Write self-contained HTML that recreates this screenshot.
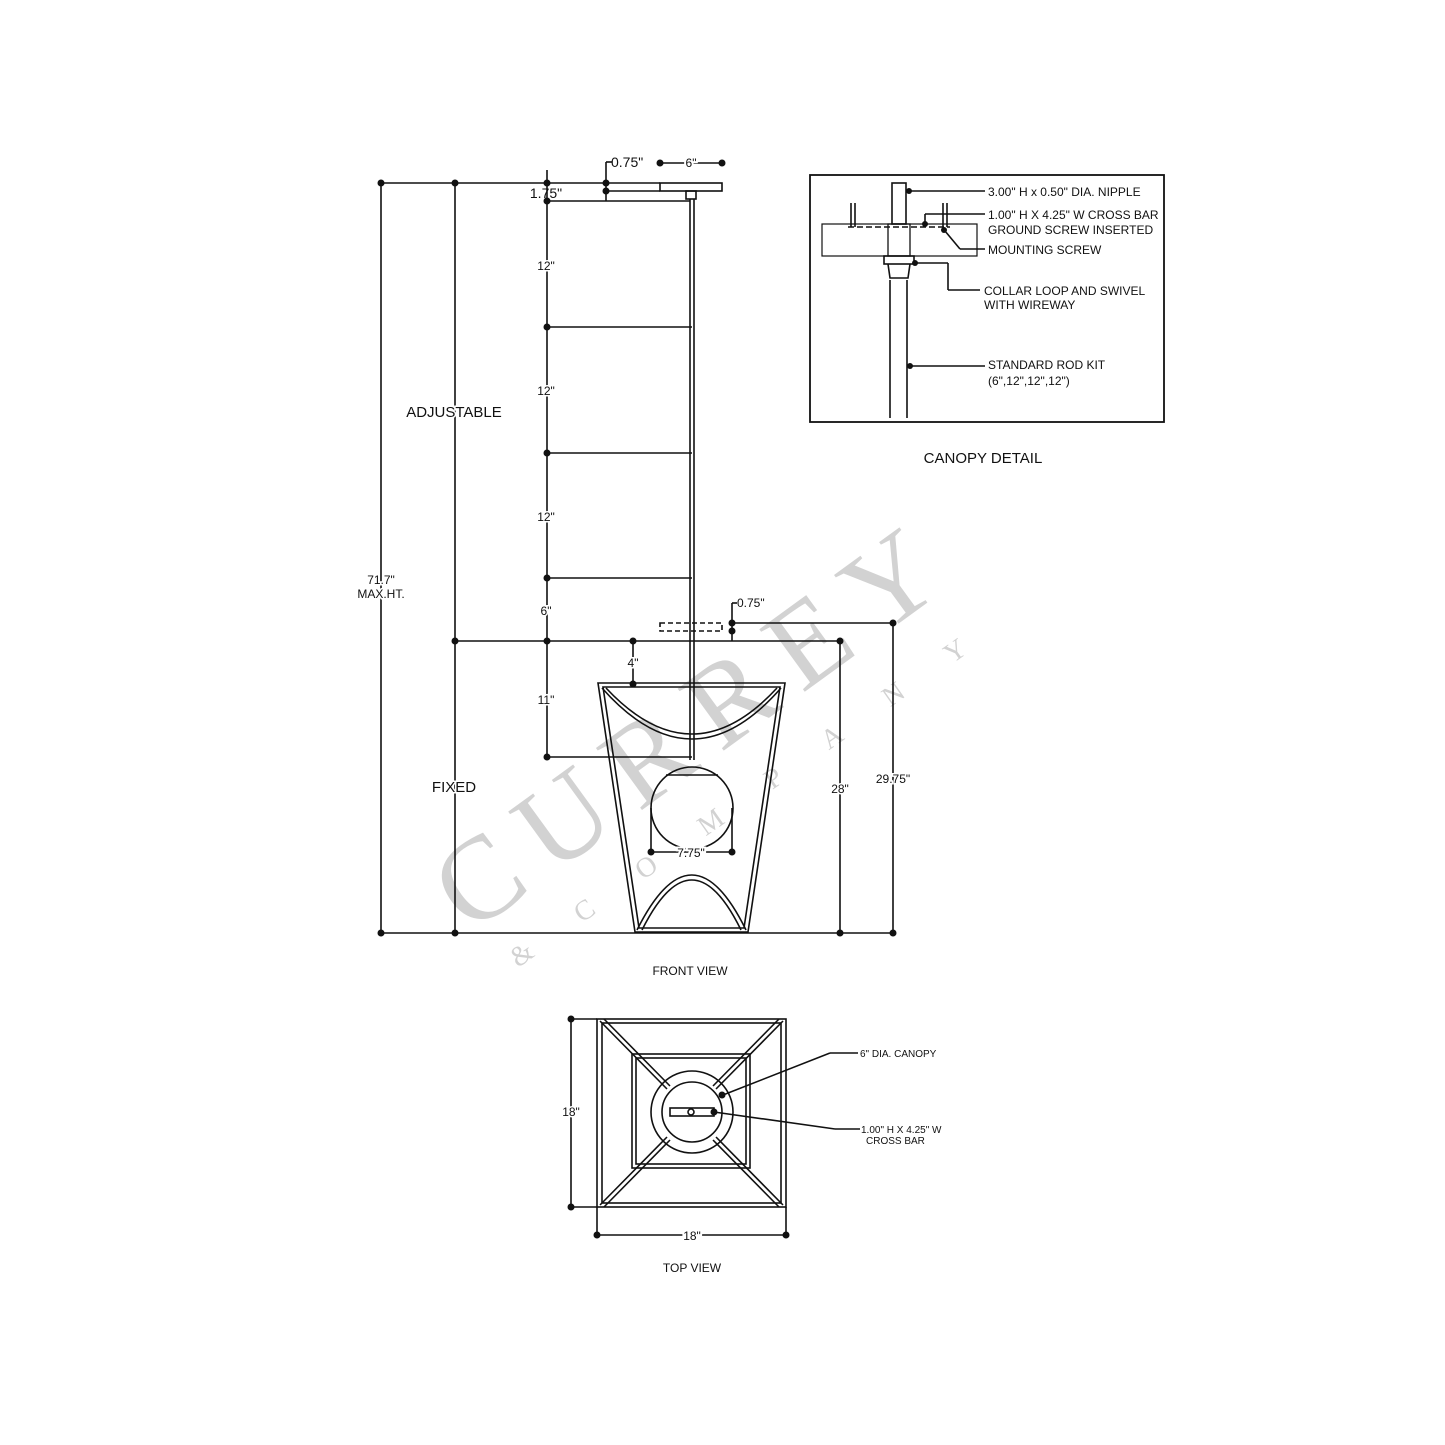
<!DOCTYPE html>
<html><head><meta charset="utf-8"><style>
html,body{margin:0;padding:0;background:#fff;}
svg{display:block;}
text{font-family:"Liberation Sans",sans-serif;fill:#111;}
</style></head><body>
<svg width="1445" height="1445" viewBox="0 0 1445 1445" xmlns="http://www.w3.org/2000/svg">
<!-- watermark -->
<text x="0" y="0" font-size="118" transform="translate(470,935) rotate(-36)" style="fill:#d2d2d2;font-family:'Liberation Serif',serif" textLength="590" lengthAdjust="spacing">CURREY</text>
<text x="0" y="0" font-size="28" transform="translate(518,968) rotate(-35)" style="fill:#d2d2d2;font-family:'Liberation Serif',serif" textLength="550" lengthAdjust="spacing">&amp; C O M P A N Y</text>
<g stroke="#111" stroke-width="1.6" fill="none">
<!-- top dims -->
<line x1="381" y1="183" x2="660" y2="183"/>
<line x1="606" y1="191" x2="660" y2="191"/>
<line x1="547" y1="201" x2="690" y2="201"/>
<line x1="606" y1="162" x2="606" y2="201"/>
<line x1="606" y1="162" x2="612" y2="162"/>
<line x1="660" y1="163" x2="722" y2="163"/>
<line x1="547" y1="170" x2="547" y2="183"/>
<rect x="660" y="183" width="62" height="8"/>
<rect x="686" y="191" width="10" height="8"/>
<!-- rod -->
<line x1="690" y1="199" x2="690" y2="760"/>
<line x1="694" y1="199" x2="694" y2="760"/>
<!-- vertical dims -->
<line x1="381" y1="183" x2="381" y2="933"/>
<line x1="455" y1="183" x2="455" y2="933"/>
<line x1="547" y1="183" x2="547" y2="757"/>
<line x1="547" y1="327" x2="692" y2="327"/>
<line x1="547" y1="453" x2="692" y2="453"/>
<line x1="547" y1="578" x2="692" y2="578"/>
<line x1="455" y1="641" x2="840" y2="641"/>
<line x1="547" y1="757" x2="692" y2="757"/>
<rect x="660" y="623" width="62" height="8" stroke-dasharray="5,3"/>
<line x1="732" y1="623" x2="893" y2="623"/>
<line x1="732" y1="603" x2="732" y2="641"/>
<line x1="732" y1="603" x2="737" y2="603"/>
<line x1="633" y1="641" x2="633" y2="684"/>
<line x1="840" y1="641" x2="840" y2="933"/>
<line x1="893" y1="623" x2="893" y2="933"/>
<line x1="381" y1="933" x2="893" y2="933"/>
<!-- lamp -->
<polygon points="598,683 785,683 748,932 635,932"/>
<polygon points="603,687 780,687 744,928 639,928"/>
<path d="M602,688 Q692,790 781,688"/>
<path d="M606,688 Q692,780 777,688"/>
<path d="M637,930 Q692,820 746,930"/>
<path d="M642,930 Q692,830 741,930"/>
<circle cx="692" cy="808" r="41"/>
<line x1="666" y1="775" x2="718" y2="775"/>
<line x1="651" y1="808" x2="651" y2="852"/>
<line x1="732" y1="808" x2="732" y2="852"/>
<line x1="651" y1="852" x2="732" y2="852"/>
<!-- canopy detail -->
<rect x="810" y="175" width="354" height="247" stroke-width="1.8"/>
<rect x="822" y="224" width="155" height="32" stroke-width="1.2"/>
<rect x="892" y="183" width="14" height="41"/>
<line x1="851" y1="203" x2="851" y2="227"/><line x1="855" y1="203" x2="855" y2="227"/>
<line x1="943" y1="203" x2="943" y2="227"/><line x1="947" y1="203" x2="947" y2="227"/>
<line x1="848" y1="227" x2="950" y2="227" stroke-dasharray="6,3"/>
<rect x="888" y="224" width="22" height="32" stroke-width="1.3"/>
<rect x="884" y="256" width="30" height="8"/>
<path d="M888,264 L890,278 L908,278 L910,264"/>
<line x1="890" y1="280" x2="890" y2="418"/><line x1="907" y1="280" x2="907" y2="418"/>
<line x1="906" y1="191" x2="985" y2="191"/>
<line x1="925" y1="224" x2="925" y2="214"/><line x1="925" y1="214" x2="985" y2="214"/>
<line x1="945" y1="231" x2="960" y2="249"/><line x1="960" y1="249" x2="985" y2="249"/>
<line x1="913" y1="263" x2="948" y2="263"/><line x1="948" y1="263" x2="948" y2="290"/><line x1="948" y1="290" x2="980" y2="290"/>
<line x1="910" y1="366" x2="985" y2="366"/>
<!-- top view -->
<rect x="597" y="1019" width="189" height="188"/>
<rect x="602" y="1023" width="179" height="180"/>
<rect x="632" y="1054" width="118" height="114"/>
<rect x="636" y="1058" width="110" height="106"/>
<circle cx="692" cy="1112" r="41"/>
<circle cx="692" cy="1112" r="30"/>
<line x1="600" y1="1021" x2="667" y2="1089"/><line x1="604" y1="1019" x2="670" y2="1086"/>
<line x1="783" y1="1021" x2="716" y2="1089"/><line x1="779" y1="1019" x2="713" y2="1086"/>
<line x1="600" y1="1205" x2="667" y2="1137"/><line x1="604" y1="1207" x2="670" y2="1140"/>
<line x1="783" y1="1205" x2="716" y2="1137"/><line x1="779" y1="1207" x2="713" y2="1140"/>
<rect x="670" y="1108" width="44" height="8"/>
<circle cx="691" cy="1112" r="3"/>
<line x1="571" y1="1019" x2="597" y2="1019"/><line x1="571" y1="1207" x2="597" y2="1207"/>
<line x1="571" y1="1019" x2="571" y2="1207"/>
<line x1="597" y1="1207" x2="597" y2="1235"/><line x1="786" y1="1207" x2="786" y2="1235"/>
<line x1="597" y1="1235" x2="786" y2="1235"/>
<line x1="723" y1="1095" x2="830" y2="1053"/><line x1="830" y1="1053" x2="858" y2="1053"/>
<line x1="714" y1="1112" x2="835" y2="1129"/><line x1="835" y1="1129" x2="860" y2="1129"/>
</g>
<!-- dots -->
<g fill="#111">
<circle cx="381" cy="183" r="3.5"/><circle cx="455" cy="183" r="3.5"/><circle cx="547" cy="183" r="3.5"/>
<circle cx="606" cy="183" r="3.5"/><circle cx="606" cy="191" r="3.5"/><circle cx="547" cy="201" r="3.5"/>
<circle cx="660" cy="163" r="3.5"/><circle cx="722" cy="163" r="3.5"/>
<circle cx="547" cy="327" r="3.5"/><circle cx="547" cy="453" r="3.5"/><circle cx="547" cy="578" r="3.5"/>
<circle cx="547" cy="641" r="3.5"/><circle cx="455" cy="641" r="3.5"/><circle cx="633" cy="641" r="3.5"/>
<circle cx="633" cy="684" r="3.5"/><circle cx="547" cy="757" r="3.5"/>
<circle cx="732" cy="623" r="3.5"/><circle cx="732" cy="631" r="3.5"/><circle cx="893" cy="623" r="3.5"/>
<circle cx="840" cy="641" r="3.5"/><circle cx="840" cy="933" r="3.5"/><circle cx="893" cy="933" r="3.5"/>
<circle cx="381" cy="933" r="3.5"/><circle cx="455" cy="933" r="3.5"/>
<circle cx="651" cy="852" r="3.5"/><circle cx="732" cy="852" r="3.5"/>
<circle cx="909" cy="191" r="3"/><circle cx="925" cy="224" r="3"/><circle cx="944" cy="230" r="3"/>
<circle cx="915" cy="263" r="3"/><circle cx="910" cy="366" r="3"/>
<circle cx="571" cy="1019" r="3.5"/><circle cx="571" cy="1207" r="3.5"/>
<circle cx="597" cy="1235" r="3.5"/><circle cx="786" cy="1235" r="3.5"/>
<circle cx="722" cy="1095" r="3.5"/><circle cx="714" cy="1112" r="3.5"/>
</g>
<!-- labels -->
<g font-size="12">
<text x="611" y="167" font-size="14">0.75"</text>
<text x="691" y="167" text-anchor="middle" style="paint-order:stroke;stroke:#fff;stroke-width:4px">6"</text>
<text x="546" y="198" font-size="14" text-anchor="middle">1.75"</text>
<text x="546" y="270" text-anchor="middle" style="paint-order:stroke;stroke:#fff;stroke-width:3px">12"</text>
<text x="546" y="395" text-anchor="middle" style="paint-order:stroke;stroke:#fff;stroke-width:3px">12"</text>
<text x="546" y="521" text-anchor="middle" style="paint-order:stroke;stroke:#fff;stroke-width:3px">12"</text>
<text x="546" y="615" text-anchor="middle" style="paint-order:stroke;stroke:#fff;stroke-width:3px">6"</text>
<text x="546" y="704" text-anchor="middle" style="paint-order:stroke;stroke:#fff;stroke-width:3px">11"</text>
<text x="633" y="667" text-anchor="middle" style="paint-order:stroke;stroke:#fff;stroke-width:3px">4"</text>
<text x="737" y="607">0.75"</text>
<text x="840" y="793" text-anchor="middle" style="paint-order:stroke;stroke:#fff;stroke-width:3px">28"</text>
<text x="893" y="783" text-anchor="middle" style="paint-order:stroke;stroke:#fff;stroke-width:3px">29.75"</text>
<text x="691" y="857" text-anchor="middle" style="paint-order:stroke;stroke:#fff;stroke-width:4px">7.75"</text>
<text x="381" y="584" text-anchor="middle" style="paint-order:stroke;stroke:#fff;stroke-width:3px">71.7"</text>
<text x="381" y="598" text-anchor="middle" style="paint-order:stroke;stroke:#fff;stroke-width:3px">MAX.HT.</text>
<text x="454" y="417" font-size="15" text-anchor="middle" style="paint-order:stroke;stroke:#fff;stroke-width:3px">ADJUSTABLE</text>
<text x="454" y="792" font-size="15" text-anchor="middle" style="paint-order:stroke;stroke:#fff;stroke-width:3px">FIXED</text>
<text x="690" y="975" font-size="12" text-anchor="middle">FRONT VIEW</text>
<text x="988" y="196" font-size="12">3.00" H x 0.50" DIA. NIPPLE</text>
<text x="988" y="219" font-size="12">1.00" H X 4.25" W CROSS BAR</text>
<text x="988" y="234" font-size="12">GROUND SCREW INSERTED</text>
<text x="988" y="254" font-size="12">MOUNTING SCREW</text>
<text x="984" y="295" font-size="12">COLLAR LOOP AND SWIVEL</text>
<text x="984" y="309" font-size="12">WITH WIREWAY</text>
<text x="988" y="369" font-size="12">STANDARD ROD KIT</text>
<text x="988" y="385" font-size="12">(6",12",12",12")</text>
<text x="983" y="463" font-size="15" text-anchor="middle">CANOPY DETAIL</text>
<text x="860" y="1057" font-size="10">6" DIA. CANOPY</text>
<text x="861" y="1133" font-size="10">1.00" H X 4.25" W</text>
<text x="866" y="1144" font-size="10">CROSS BAR</text>
<text x="571" y="1116" text-anchor="middle" style="paint-order:stroke;stroke:#fff;stroke-width:3px">18"</text>
<text x="692" y="1240" text-anchor="middle" style="paint-order:stroke;stroke:#fff;stroke-width:4px">18"</text>
<text x="692" y="1272" font-size="12" text-anchor="middle">TOP VIEW</text>
</g>
</svg>
</body></html>
